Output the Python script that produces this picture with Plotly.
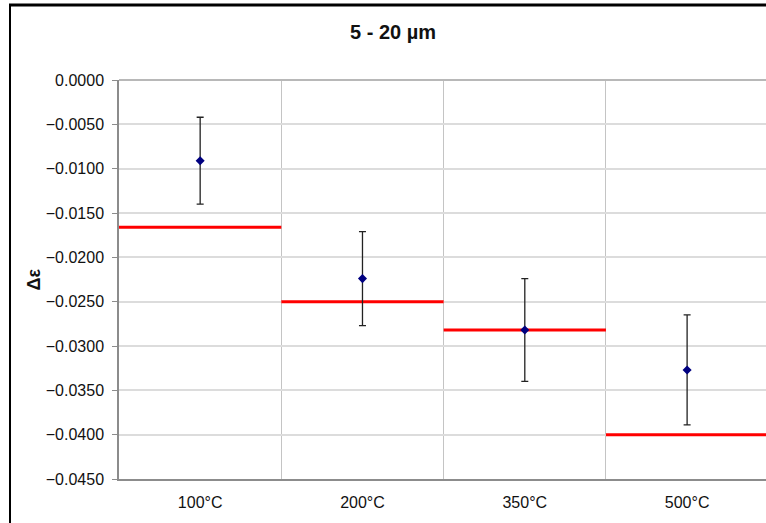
import plotly.graph_objects as go

categories = ["100°C", "200°C", "350°C", "500°C"]
means = [-0.0091, -0.0224, -0.0282, -0.0327]
errors = [0.0049, 0.0053, 0.0058, 0.0062]
ref_levels = [-0.0166, -0.0250, -0.0282, -0.0400]
y_ticks = [0.0, -0.005, -0.010, -0.015, -0.020, -0.025, -0.030, -0.035, -0.040, -0.045]

W, H = 766, 523
ML, MR, MT, MB = 119, 0, 80, 44
pw = W - ML - MR
ph = H - MT - MB

xs = list(range(len(categories)))

# red reference segments spanning each category
rx, ry = [], []
for i, v in enumerate(ref_levels):
    rx += [i - 0.5, i + 0.5, None]
    ry += [v, v, None]

fig = go.Figure()
fig.add_trace(go.Scatter(x=rx, y=ry, mode="lines",
                         line=dict(color="#ff0000", width=3),
                         hoverinfo="skip", showlegend=False))
fig.add_trace(go.Scatter(
    x=xs, y=means, mode="markers",
    marker=dict(symbol="diamond", size=7, color="#000080"),
    error_y=dict(type="data", array=errors, visible=True,
                 color="#222222", thickness=1.3, width=3.5),
    showlegend=False))

def px_x(px):
    return (px - ML) / pw

def px_y(py):
    return (H - MB - py) / ph

fig.update_layout(
    width=W, height=H,
    margin=dict(l=ML, r=MR, t=MT, b=MB),
    paper_bgcolor="white", plot_bgcolor="white",
    font=dict(family="Arial, Liberation Sans, sans-serif", size=16, color="#111111"),
    title=dict(text="<b>5 - 20 µm</b>", x=393 / W, xref="container", xanchor="center",
               y=1 - 32 / H, yref="container", yanchor="middle",
               font=dict(size=20, color="#111111")),
    xaxis=dict(range=[-0.5, 3.486], tickmode="array", tickvals=xs, ticktext=categories,
               showgrid=False, zeroline=False, showline=True, linecolor="#8c8c8c",
               linewidth=1.5, ticks="", ticklabelstandoff=8,
               minor=dict(tickvals=[i + 0.5 for i in xs[:-1]], showgrid=True,
                          gridcolor="#c4c4c4", gridwidth=1, ticks="")),
    yaxis=dict(range=[-0.045, 0.0], tickmode="array", tickvals=y_ticks,
               tickformat=".4f", showgrid=True, gridcolor="#dcdcdc", gridwidth=1.5,
               zeroline=False, showline=True, linecolor="#8c8c8c", linewidth=1.5,
               ticks="outside", ticklen=5, tickcolor="#8c8c8c", ticklabelstandoff=5),
    annotations=[dict(text="<b>Δε</b>", x=px_x(33), y=0.5, xref="paper", yref="paper",
                      textangle=-90, showarrow=False, xanchor="center", yanchor="middle",
                      font=dict(size=18, color="#111111"))],
    shapes=[
        dict(type="line", xref="paper", yref="paper", x0=px_x(9), x1=px_x(W + 5),
             y0=px_y(5), y1=px_y(5), line=dict(color="#000000", width=3)),
        dict(type="line", xref="paper", yref="paper", x0=px_x(10), x1=px_x(10),
             y0=px_y(4), y1=px_y(H + 5), line=dict(color="#000000", width=2)),
        dict(type="line", xref="paper", yref="paper", x0=0, x1=1, y0=1, y1=1,
             line=dict(color="#b8b8b8", width=2)),
    ],
)

fig.write_html("out.html")
